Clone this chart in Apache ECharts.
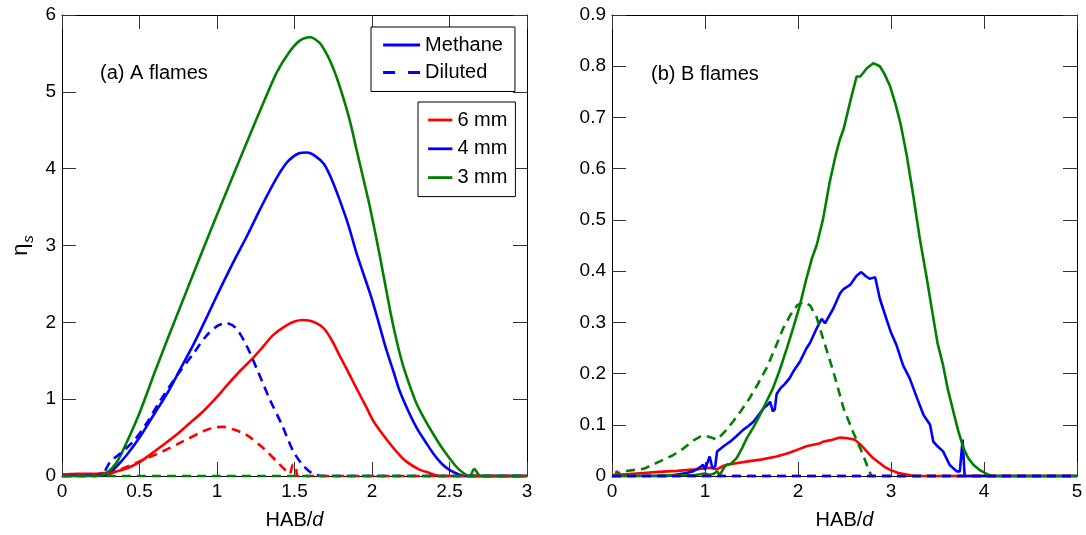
<!DOCTYPE html>
<html>
<head>
<meta charset="utf-8">
<script src="https://cdn.jsdelivr.net/npm/echarts@6/dist/echarts.min.js"></script>
<style>html,body{margin:0;padding:0;background:#fff}#c{width:1086px;height:535px}</style>
</head>
<body>
<div id="c"></div>
<script>
// ---------- Panel (a): A flames ----------
const A_xTicks = [0, 0.5, 1, 1.5, 2, 2.5, 3];
const A_yTicks = [0, 1, 2, 3, 4, 5, 6];
const A_methane_6mm = [[0,0.02],[0.1,0.03],[0.2,0.03],[0.27,0.04],[0.33,0.05],[0.42,0.1],[0.5,0.18],[0.57,0.28],[0.65,0.4],[0.74,0.54],[0.82,0.68],[0.91,0.84],[1.0,1.03],[1.06,1.17],[1.15,1.37],[1.23,1.53],[1.3,1.69],[1.36,1.83],[1.44,1.95],[1.5,2.01],[1.55,2.03],[1.6,2.02],[1.65,1.98],[1.69,1.92],[1.74,1.77],[1.79,1.57],[1.85,1.34],[1.9,1.14],[1.96,0.91],[2.01,0.71],[2.07,0.54],[2.12,0.41],[2.17,0.29],[2.22,0.19],[2.3,0.09],[2.37,0.04],[2.44,0],[3,0]];
const A_methane_4mm = [[0,0],[0.2,0.01],[0.29,0.02],[0.35,0.12],[0.42,0.28],[0.5,0.5],[0.59,0.79],[0.68,1.08],[0.76,1.38],[0.85,1.72],[0.93,2.05],[1.0,2.35],[1.1,2.76],[1.2,3.15],[1.28,3.48],[1.385,3.88],[1.46,4.1],[1.53,4.2],[1.58,4.21],[1.63,4.17],[1.69,4.06],[1.74,3.86],[1.79,3.6],[1.85,3.25],[1.9,2.9],[1.99,2.36],[2.04,2.02],[2.09,1.66],[2.14,1.35],[2.18,1.1],[2.24,0.82],[2.29,0.62],[2.35,0.43],[2.4,0.28],[2.45,0.16],[2.5,0.08],[2.56,0.02],[2.6,0],[3,0]];
const A_methane_3mm = [[0,0],[0.2,0],[0.27,0.02],[0.35,0.17],[0.42,0.45],[0.5,0.82],[0.6,1.36],[0.7,1.88],[0.8,2.39],[0.9,2.9],[1.0,3.4],[1.1,3.89],[1.2,4.38],[1.3,4.86],[1.385,5.25],[1.46,5.5],[1.53,5.66],[1.6,5.71],[1.66,5.64],[1.7,5.52],[1.73,5.4],[1.77,5.2],[1.815,4.92],[1.86,4.6],[1.9,4.25],[1.95,3.82],[1.99,3.47],[2.05,2.87],[2.12,2.12],[2.16,1.75],[2.2,1.44],[2.25,1.14],[2.29,0.93],[2.35,0.7],[2.4,0.53],[2.45,0.37],[2.5,0.23],[2.54,0.13],[2.57,0.07],[2.61,0.01],[2.63,0],[2.66,0.09],[2.7,0],[3,0]];
const A_diluted_6mm = [[0,0.02],[0.25,0.02],[0.31,0.03],[0.37,0.08],[0.43,0.13],[0.5,0.19],[0.57,0.25],[0.65,0.32],[0.78,0.45],[0.91,0.58],[0.98,0.63],[1.04,0.64],[1.1,0.61],[1.19,0.535],[1.3,0.36],[1.385,0.19],[1.45,0.06],[1.47,0.03],[1.49,0.15],[1.51,0.1],[1.52,0],[3,0]];
const A_diluted_4mm = [[0,0],[0.22,0],[0.27,0.05],[0.31,0.18],[0.38,0.3],[0.46,0.45],[0.55,0.7],[0.63,0.97],[0.75,1.33],[0.85,1.6],[0.93,1.82],[1.0,1.95],[1.06,1.99],[1.12,1.93],[1.19,1.7],[1.26,1.38],[1.34,1.0],[1.42,0.66],[1.49,0.33],[1.55,0.15],[1.61,0.04],[1.68,0],[3,0]];
const A_diluted_3mm = [[0,0],[3,0]];

// ---------- Panel (b): B flames ----------
const B_xTicks = [0, 1, 2, 3, 4, 5];
const B_yTicks = [0, 0.1, 0.2, 0.3, 0.4, 0.5, 0.6, 0.7, 0.8, 0.9];
const B_methane_6mm = [[0,0],[0.04,0],[0.05,0.01],[0.07,0.002],[0.1,0.003],[0.34,0.006],[0.5,0.008],[0.7,0.01],[0.9,0.013],[1.05,0.016],[1.12,0.013],[1.16,0.016],[1.2,0.02],[1.3,0.024],[1.48,0.029],[1.6,0.032],[1.77,0.038],[1.9,0.045],[1.99,0.051],[2.09,0.058],[2.24,0.064],[2.27,0.067],[2.35,0.07],[2.45,0.075],[2.52,0.074],[2.61,0.071],[2.68,0.06],[2.74,0.048],[2.8,0.036],[2.88,0.025],[2.93,0.018],[2.99,0.012],[3.08,0.006],[3.17,0.003],[3.25,0],[5,0]];
const B_methane_4mm = [[0,0],[0.6,0],[0.7,0.003],[0.8,0.006],[0.87,0.009],[0.93,0.015],[0.98,0.022],[1.0,0.012],[1.02,0.009],[1.05,0.038],[1.08,0.015],[1.11,0.019],[1.13,0.048],[1.2,0.058],[1.27,0.067],[1.34,0.078],[1.41,0.09],[1.47,0.098],[1.52,0.106],[1.58,0.12],[1.63,0.132],[1.68,0.14],[1.7,0.145],[1.73,0.126],[1.75,0.13],[1.77,0.16],[1.81,0.171],[1.86,0.18],[1.91,0.191],[1.96,0.207],[2.02,0.223],[2.09,0.249],[2.13,0.26],[2.2,0.288],[2.255,0.307],[2.29,0.298],[2.31,0.3],[2.38,0.327],[2.45,0.356],[2.49,0.365],[2.56,0.373],[2.63,0.391],[2.68,0.398],[2.73,0.39],[2.77,0.385],[2.83,0.388],[2.88,0.346],[2.95,0.307],[3.0,0.28],[3.06,0.255],[3.13,0.216],[3.2,0.191],[3.28,0.152],[3.35,0.119],[3.42,0.1],[3.455,0.067],[3.5,0.058],[3.56,0.048],[3.63,0.022],[3.67,0.015],[3.71,0.009],[3.74,0.009],[3.77,0.071],[3.79,0.005],[3.8,0],[5,0]];
const B_methane_3mm = [[0,0],[0.5,0.001],[0.9,0.002],[1.0,0.005],[1.05,0.002],[1.1,0.005],[1.13,0.009],[1.16,0.002],[1.18,0.003],[1.2,0.015],[1.23,0.022],[1.28,0.024],[1.34,0.035],[1.4,0.055],[1.45,0.074],[1.52,0.095],[1.59,0.119],[1.66,0.145],[1.73,0.171],[1.8,0.205],[1.88,0.249],[1.95,0.29],[2.02,0.333],[2.09,0.385],[2.15,0.425],[2.2,0.45],[2.27,0.502],[2.34,0.573],[2.41,0.63],[2.45,0.657],[2.49,0.677],[2.56,0.73],[2.63,0.78],[2.67,0.78],[2.74,0.796],[2.81,0.806],[2.88,0.8],[2.93,0.785],[2.99,0.761],[3.05,0.725],[3.1,0.69],[3.17,0.625],[3.24,0.547],[3.31,0.463],[3.38,0.391],[3.45,0.314],[3.5,0.26],[3.56,0.216],[3.61,0.17],[3.67,0.126],[3.72,0.09],[3.78,0.054],[3.83,0.035],[3.885,0.022],[3.95,0.012],[4.03,0.004],[4.08,0],[5,0]];
const B_diluted_6mm = [[0,0],[5,0]];
const B_diluted_4mm = [[0,0],[5,0]];
const B_diluted_3mm = [[0,0],[0.05,0.004],[0.12,0.009],[0.34,0.014],[0.52,0.029],[0.65,0.04],[0.77,0.054],[0.88,0.07],[0.95,0.077],[1.0,0.079],[1.05,0.076],[1.13,0.071],[1.22,0.088],[1.3,0.106],[1.39,0.128],[1.48,0.152],[1.57,0.18],[1.66,0.21],[1.75,0.248],[1.84,0.288],[1.92,0.315],[1.99,0.333],[2.06,0.34],[2.13,0.333],[2.2,0.31],[2.27,0.268],[2.38,0.204],[2.49,0.132],[2.59,0.087],[2.7,0.041],[2.76,0.012],[2.79,0],[5,0]];

const legendFuel = ['Methane', 'Diluted'];
const legendSize = ['6 mm', '4 mm', '3 mm'];
const panelLabels = ['(a) A flames', '(b) B flames'];

const RED = '#ff0000', BLUE = '#0000ff', GREEN = '#008000';
const FONT = 'Liberation Sans, Arial, Helvetica, sans-serif';
const LW = 2.6;
const DASH = [9, 6];

function axisPair(gridIndex, ticks, isX, showLabels, position, extra) {
  const step = ticks[1] - ticks[0];
  return Object.assign({
    type: 'value', gridIndex: gridIndex, position: position,
    min: ticks[0], max: ticks[ticks.length - 1], interval: step,
    splitLine: {show: false},
    axisLine: {show: true, onZero: false, lineStyle: {color: '#000', width: 1}},
    axisTick: {show: true, inside: true, length: 14, lineStyle: {color: '#333', width: 1}},
    axisLabel: {show: showLabels, color: '#000', fontSize: 19, fontFamily: FONT, margin: 6}
  }, extra || {});
}

const xName = {
  name: '{a|HAB/}{b|d}', nameLocation: 'middle', nameGap: 34,
  nameTextStyle: {color: '#000', fontFamily: FONT, rich: {
    a: {fontSize: 20, fontFamily: FONT, color: '#000'},
    b: {fontSize: 20, fontFamily: FONT, fontStyle: 'italic', color: '#000'}
  }}
};

function line(name, data, color, dashed, xi, yi) {
  return {
    type: 'line', name: name, data: data, xAxisIndex: xi, yAxisIndex: yi,
    symbol: 'none', showSymbol: false, clip: false,
    smooth: xi === 0 ? 0.3 : false,
    lineStyle: {color: color, width: LW, type: dashed ? DASH : 'solid'},
    itemStyle: {color: color}, emphasis: {disabled: true}, silent: true, z: 3
  };
}
function legendSeries(name, color, dash) {
  return {
    type: 'line', name: name, data: [], xAxisIndex: 0, yAxisIndex: 0,
    symbol: 'none', showSymbol: false,
    lineStyle: {color: color, width: LW, type: dash}, itemStyle: {color: color}
  };
}

const legendBase = {
  orient: 'vertical', selectedMode: false,
  itemHeight: 14, borderColor: '#000', borderWidth: 1, backgroundColor: '#fff',
  itemStyle: {opacity: 0}, lineStyle: {width: 2.8},
  textStyle: {fontSize: 20, color: '#000', fontFamily: FONT}
};

const chart = echarts.init(document.getElementById('c'), null, {renderer: 'canvas'});
chart.setOption({
  animation: false,
  backgroundColor: '#fff',
  textStyle: {fontFamily: FONT},
  title: [
    {text: panelLabels[0], left: 100, top: 63, padding: 0, textStyle: {fontSize: 20, fontWeight: 'normal', color: '#000', fontFamily: FONT}},
    {text: panelLabels[1], left: 651, top: 64, padding: 0, textStyle: {fontSize: 20, fontWeight: 'normal', color: '#000', fontFamily: FONT}}
  ],
  grid: [
    {left: 62, top: 15, width: 465, height: 463},
    {left: 612, top: 15, width: 465, height: 463}
  ],
  xAxis: [
    axisPair(0, A_xTicks, true, true, 'bottom', xName),
    axisPair(0, A_xTicks, true, false, 'top'),
    axisPair(1, B_xTicks, true, true, 'bottom', xName),
    axisPair(1, B_xTicks, true, false, 'top')
  ],
  yAxis: [
    axisPair(0, A_yTicks, false, true, 'left', {
      name: '{a|η}{b|s}', nameLocation: 'middle', nameGap: 26,
      nameTextStyle: {color: '#000', fontFamily: FONT, rich: {
        a: {fontSize: 22, fontFamily: FONT, color: '#000'},
        b: {fontSize: 15, fontFamily: FONT, fontStyle: 'italic', color: '#000', padding: [16, 0, 0, 1]}
      }}
    }),
    axisPair(0, A_yTicks, false, false, 'right'),
    axisPair(1, B_yTicks, false, true, 'left'),
    axisPair(1, B_yTicks, false, false, 'right')
  ],
  legend: [
    Object.assign({}, legendBase, {data: legendFuel, left: 371, top: 27,
      padding: [8, 12, 9, 10.7], itemWidth: 37, itemGap: 7.5}),
    Object.assign({}, legendBase, {data: legendSize, left: 418, top: 102,
      padding: [8, 8, 9, 8.7], itemWidth: 24.3, itemGap: 8.8})
  ],
  series: [
    legendSeries('Methane', BLUE, 'solid'),
    legendSeries('Diluted', BLUE, [12, 13]),
    legendSeries('6 mm', RED, 'solid'),
    legendSeries('4 mm', BLUE, 'solid'),
    legendSeries('3 mm', GREEN, 'solid'),
    line('A methane 6 mm', A_methane_6mm, RED, false, 0, 0),
    line('A methane 4 mm', A_methane_4mm, BLUE, false, 0, 0),
    line('A methane 3 mm', A_methane_3mm, GREEN, false, 0, 0),
    line('A diluted 6 mm', A_diluted_6mm, RED, true, 0, 0),
    line('A diluted 4 mm', A_diluted_4mm, BLUE, true, 0, 0),
    line('A diluted 3 mm', A_diluted_3mm, GREEN, true, 0, 0),
    line('B methane 6 mm', B_methane_6mm, RED, false, 2, 2),
    line('B methane 4 mm', B_methane_4mm, BLUE, false, 2, 2),
    line('B methane 3 mm', B_methane_3mm, GREEN, false, 2, 2),
    line('B diluted 3 mm', B_diluted_3mm, GREEN, true, 2, 2),
    line('B diluted 6 mm', B_diluted_6mm, RED, true, 2, 2),
    line('B diluted 4 mm', B_diluted_4mm, BLUE, true, 2, 2)
  ]
});
</script>
</body>
</html>
